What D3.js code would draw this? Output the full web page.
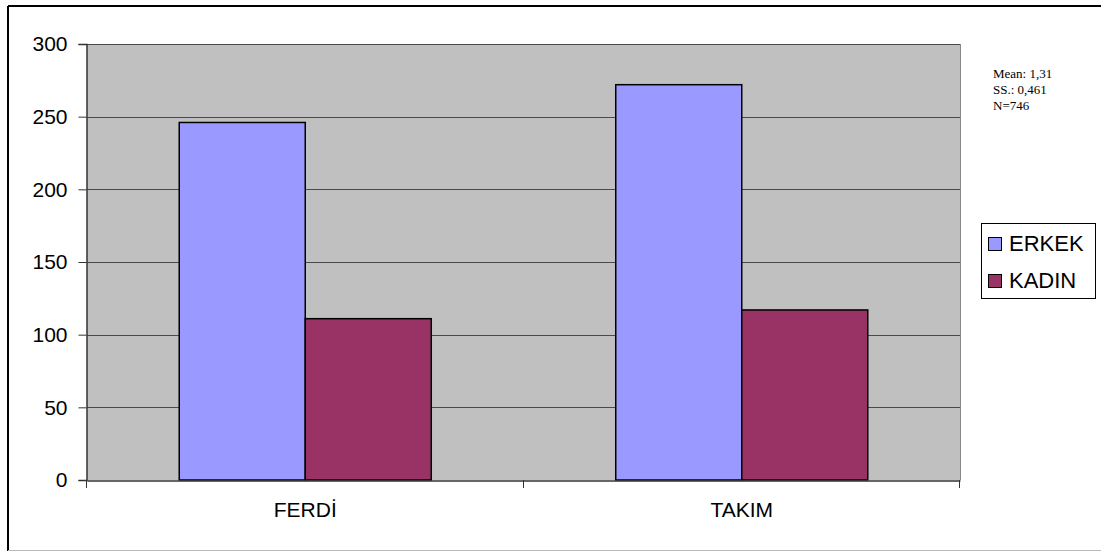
<!DOCTYPE html>
<html>
<head>
<meta charset="utf-8">
<script src="https://cdn.jsdelivr.net/npm/d3@7"></script>
<style>
  body { margin: 0; background: #fff; }
  text { font-family: "Liberation Sans", Arial, sans-serif; }
</style>
</head>
<body>
<div id="chart"></div>
<script>
// data
var categories = ["FERDİ", "TAKIM"];
var series = ["ERKEK", "KADIN"];
var erkek = [246, 272];
var kadin = [111, 117];
var yTicks = [0, 50, 100, 150, 200, 250, 300];
var notes = ["Mean: 1,31", "SS.: 0,461", "N=746"];

var colors = {"ERKEK": "#9999FF", "KADIN": "#993366"};

var W = 1101, H = 552;
var plot = {left: 87, right: 960, top: 44, bottom: 480};

var svg = d3.select("#chart")
    .append("svg")
    .attr("width", W)
    .attr("height", H);

// outer frame (right side runs off the picture)
svg.append("line").attr("x1", 8).attr("x2", W).attr("y1", 6).attr("y2", 6)
    .attr("stroke", "#000").attr("stroke-width", 2);
svg.append("line").attr("x1", 8).attr("x2", 8).attr("y1", 6).attr("y2", 551)
    .attr("stroke", "#000").attr("stroke-width", 2);
svg.append("line").attr("x1", 8).attr("x2", W).attr("y1", 550.5).attr("y2", 550.5)
    .attr("stroke", "#bbb").attr("stroke-width", 1);

var x0 = d3.scaleBand()
    .domain(categories)
    .range([plot.left, plot.right])
    .padding(0);

var x1 = d3.scaleBand()
    .domain(series)
    .range([0, x0.bandwidth()])
    .paddingInner(0)
    .paddingOuter(0.732);

var y = d3.scaleLinear()
    .domain([0, 300])
    .range([plot.bottom, plot.top]);

// plot background
svg.append("rect")
    .attr("x", plot.left)
    .attr("y", plot.top)
    .attr("width", plot.right - plot.left)
    .attr("height", plot.bottom - plot.top)
    .attr("fill", "#C0C0C0");

// right edge of plot area
svg.append("line")
    .attr("x1", plot.right + 0.5).attr("x2", plot.right + 0.5)
    .attr("y1", plot.top).attr("y2", plot.bottom)
    .attr("stroke", "#888").attr("stroke-width", 1);

// gridlines
svg.append("g")
    .selectAll("line")
    .data(yTicks.filter(function (d) { return d > 0; }))
    .enter()
    .append("line")
    .attr("x1", plot.left)
    .attr("x2", plot.right)
    .attr("y1", function (d) { return Math.round(y(d)) + 0.5; })
    .attr("y2", function (d) { return Math.round(y(d)) + 0.5; })
    .attr("stroke", "#4a4a4a")
    .attr("stroke-width", 1);

// bars
var rows = categories.map(function (c, i) {
    return {cat: c, vals: [{s: "ERKEK", v: erkek[i]}, {s: "KADIN", v: kadin[i]}]};
});

svg.append("g")
    .selectAll("g")
    .data(rows)
    .enter()
    .append("g")
    .attr("transform", function (d) { return "translate(" + x0(d.cat) + ",0)"; })
    .selectAll("rect")
    .data(function (d) { return d.vals; })
    .enter()
    .append("rect")
    .attr("x", function (d) { return x1(d.s); })
    .attr("y", function (d) { return y(d.v); })
    .attr("width", x1.bandwidth())
    .attr("height", function (d) { return y(0) - y(d.v); })
    .attr("fill", function (d) { return colors[d.s]; })
    .attr("stroke", "#000")
    .attr("stroke-width", 1.5);

// Y axis
var yAxis = svg.append("g")
    .attr("transform", "translate(" + (plot.left - 0.5) + ",0)")
    .call(d3.axisLeft(y).tickValues(yTicks).tickSize(8).tickPadding(11));
yAxis.select(".domain").attr("stroke", "#333").attr("stroke-width", 1.5);
yAxis.selectAll(".tick line").attr("stroke", "#333");
yAxis.selectAll("text")
    .attr("font-size", "21px")
    .attr("fill", "#000")
    .attr("font-family", "Liberation Sans, Arial, sans-serif");

// X axis
var xAxis = svg.append("g")
    .attr("transform", "translate(0," + (plot.bottom + 0.5) + ")")
    .call(d3.axisBottom(x0).tickSize(0).tickPadding(22));
xAxis.select(".domain").attr("stroke", "#333").attr("stroke-width", 1.5);
xAxis.selectAll("text")
    .attr("font-size", "21px")
    .attr("fill", "#000")
    .attr("font-family", "Liberation Sans, Arial, sans-serif");

// tick marks between categories
var bounds = categories.map(function (c) { return x0(c); }).concat([plot.right]);
svg.append("g")
    .selectAll("line")
    .data(bounds)
    .enter()
    .append("line")
    .attr("x1", function (d) { return Math.round(d) - 0.5; })
    .attr("x2", function (d) { return Math.round(d) - 0.5; })
    .attr("y1", plot.bottom)
    .attr("y2", plot.bottom + 8)
    .attr("stroke", "#333");

// legend
var legend = svg.append("g");
legend.append("rect")
    .attr("x", 981.5).attr("y", 223.5)
    .attr("width", 114).attr("height", 75)
    .attr("fill", "#fff").attr("stroke", "#000");

var li = legend.selectAll("g.item")
    .data(series)
    .enter()
    .append("g")
    .attr("class", "item")
    .attr("transform", function (d, i) { return "translate(0," + (i * 37) + ")"; });
li.append("rect")
    .attr("x", 988.5).attr("y", 237.5)
    .attr("width", 13).attr("height", 13)
    .attr("fill", function (d) { return colors[d]; })
    .attr("stroke", "#000");
li.append("text")
    .attr("x", 1009)
    .attr("y", 251)
    .attr("font-size", "22px")
    .text(function (d) { return d; });

// statistics note
svg.append("g")
    .selectAll("text")
    .data(notes)
    .enter()
    .append("text")
    .attr("x", 993)
    .attr("y", function (d, i) { return 78 + i * 16; })
    .attr("font-size", "13px")
    .style("font-family", "Liberation Serif, Times New Roman, serif")
    .text(function (d) { return d; });
</script>
</body>
</html>
